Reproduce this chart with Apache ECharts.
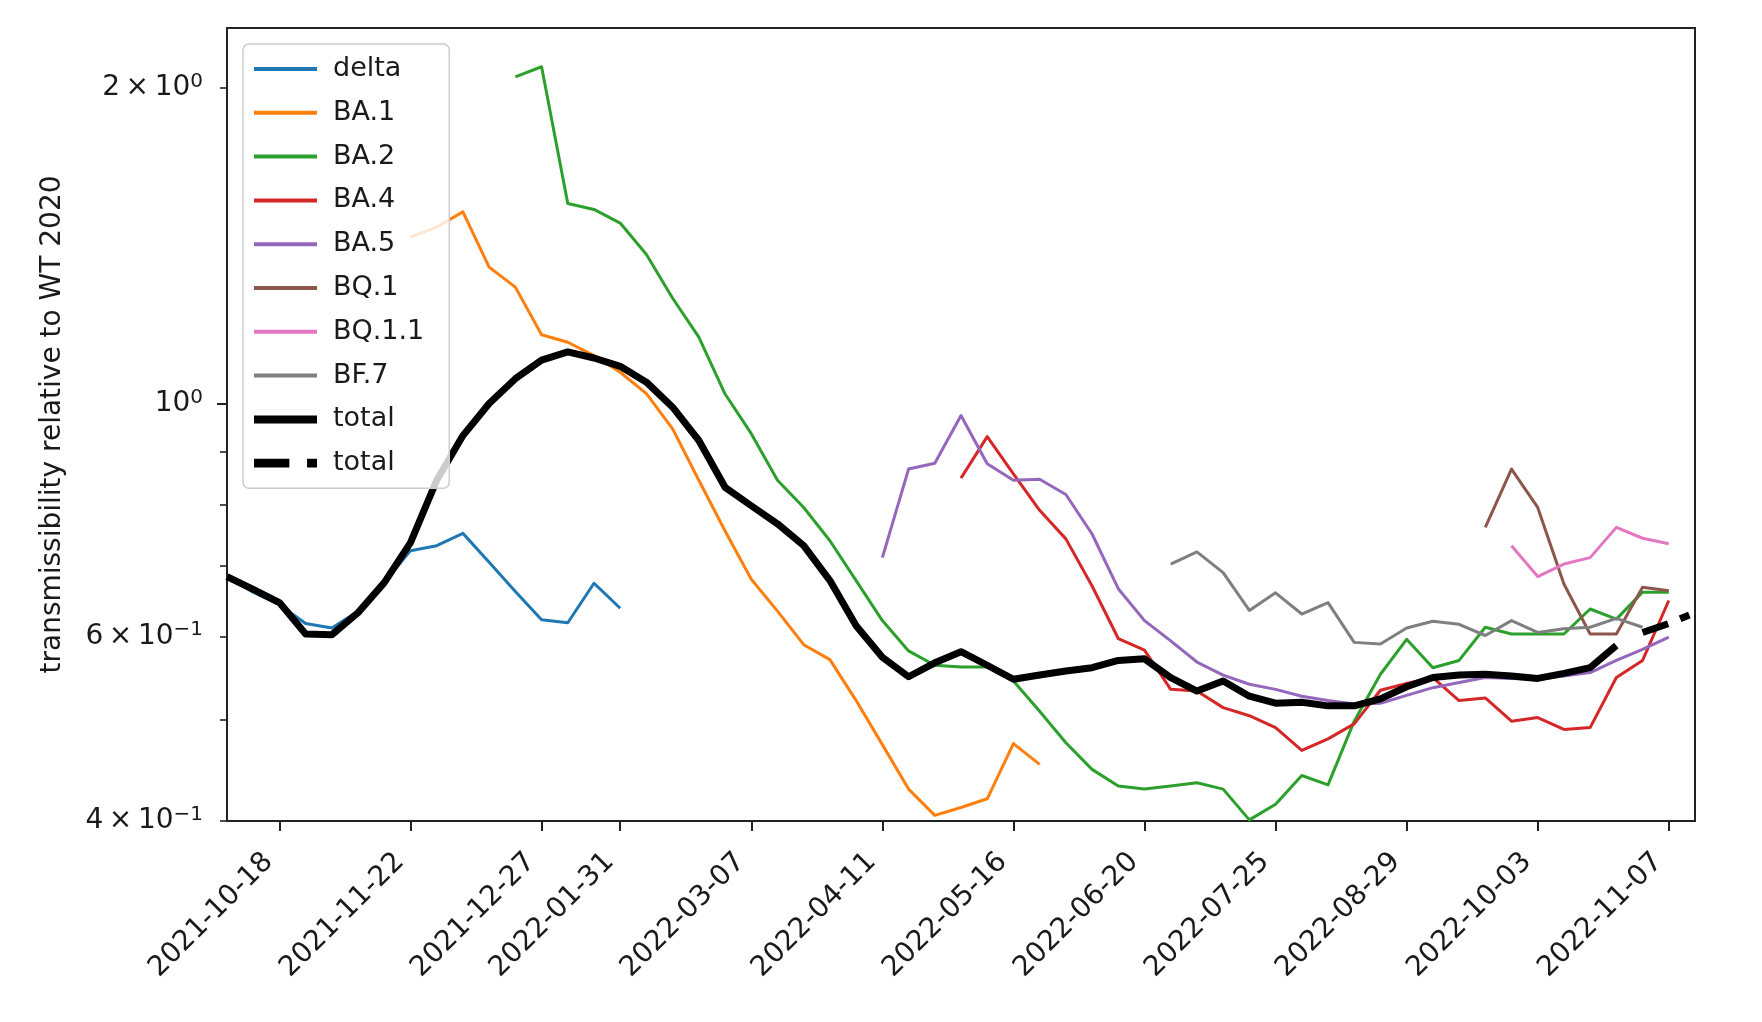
<!DOCTYPE html>
<html>
<head>
<meta charset="utf-8">
<script src="https://cdn.jsdelivr.net/npm/echarts@6/dist/echarts.min.js"></script>
<style>
html, body { margin: 0; padding: 0; background: #ffffff; }
#chart { width: 1762px; height: 1022px; }
</style>
</head>
<body>
<div id="chart"></div>
<script>
// ---- categories (weekly dates on a category axis) ----
const categories = [
  '2021-10-04','2021-10-11','2021-10-18','2021-10-25','2021-11-01','2021-11-08','2021-11-15',
  '2021-11-22','2021-11-29','2021-12-06','2021-12-13','2021-12-20','2021-12-27','2022-01-10',
  '2022-01-17','2022-01-31','2022-02-07','2022-02-14','2022-02-21','2022-02-28','2022-03-07',
  '2022-03-14','2022-03-21','2022-03-28','2022-04-04','2022-04-11','2022-04-18','2022-04-25',
  '2022-05-02','2022-05-09','2022-05-16','2022-05-23','2022-05-30','2022-06-06','2022-06-13',
  '2022-06-20','2022-06-27','2022-07-04','2022-07-11','2022-07-18','2022-07-25','2022-08-01',
  '2022-08-08','2022-08-15','2022-08-22','2022-08-29','2022-09-05','2022-09-12','2022-09-19',
  '2022-09-26','2022-10-03','2022-10-10','2022-10-17','2022-10-24','2022-10-31','2022-11-07',
  '2022-11-14'
];
const xTickLabels = ['2021-10-18','2021-11-22','2021-12-27','2022-01-31','2022-03-07','2022-04-11',
  '2022-05-16','2022-06-20','2022-07-25','2022-08-29','2022-10-03','2022-11-07'];

// ---- y axis ticks (log scale) ----
const yLabelValues = [0.40001, 0.6, 1, 2];
const yLabelMantissa = ['4', '6', '', '2'];
const yLabelExponent = ['\u22121', '\u22121', '0', '0'];
const yMinorTickValues = [0.40001, 0.5, 0.6, 0.7, 0.8, 0.9, 2];
const yMajorTickValues = [1];

// ---- series values ----
const deltaStart = '2021-10-04';
const deltaValues = [0.684, 0.661, 0.643, 0.617, 0.611, 0.634, 0.675, 0.724, 0.732, 0.752,
  0.706, 0.662, 0.622, 0.618, 0.674, 0.638];

const ba1Start = '2021-11-22';
const ba1Values = [1.441, 1.473, 1.523, 1.349, 1.291, 1.163, 1.144, 1.111, 1.071, 1.022,
  0.946, 0.845, 0.756, 0.680, 0.634, 0.589, 0.570, 0.521, 0.473, 0.429,
  0.405, 0.412, 0.420, 0.474, 0.453];

const ba2Start = '2021-12-20';
const ba2Values = [2.048, 2.094, 1.551, 1.531, 1.486, 1.387, 1.260, 1.157, 1.021, 0.936,
  0.845, 0.796, 0.740, 0.678, 0.621, 0.581, 0.563, 0.561, 0.561, 0.544,
  0.509, 0.475, 0.448, 0.432, 0.429, 0.432, 0.435, 0.429, 0.401, 0.415,
  0.442, 0.433, 0.498, 0.552, 0.596, 0.560, 0.569, 0.612, 0.603, 0.603,
  0.603, 0.637, 0.623, 0.661, 0.661];

const ba4Start = '2022-05-02';
const ba4Values = [0.849, 0.930, 0.857, 0.791, 0.743, 0.670, 0.597, 0.582, 0.534, 0.532,
  0.513, 0.504, 0.491, 0.467, 0.479, 0.495, 0.533, 0.541, 0.548, 0.521,
  0.524, 0.498, 0.502, 0.489, 0.491, 0.548, 0.569, 0.649];

const ba5Start = '2022-04-11';
const ba5Values = [0.713, 0.866, 0.877, 0.974, 0.876, 0.845, 0.847, 0.819, 0.751, 0.666,
  0.621, 0.594, 0.567, 0.551, 0.540, 0.534, 0.526, 0.521, 0.517, 0.518,
  0.527, 0.536, 0.542, 0.548, 0.547, 0.546, 0.550, 0.554, 0.569, 0.583, 0.599];

const bq1Start = '2022-09-19';
const bq1Values = [0.762, 0.866, 0.796, 0.673, 0.603, 0.603, 0.668, 0.663];

const bq11Start = '2022-09-26';
const bq11Values = [0.732, 0.684, 0.703, 0.713, 0.762, 0.744, 0.735];

const bf7Start = '2022-06-27';
const bf7Values = [0.703, 0.722, 0.690, 0.635, 0.660, 0.630, 0.646, 0.592, 0.590, 0.611,
  0.620, 0.616, 0.601, 0.621, 0.605, 0.610, 0.612, 0.624, 0.612];

const totalStart = '2021-10-04';
const totalValues = [0.684, 0.665, 0.646, 0.603, 0.602, 0.632, 0.675, 0.737, 0.845, 0.932,
  1.000, 1.056, 1.100, 1.120, 1.105, 1.085, 1.048, 0.992, 0.922, 0.832,
  0.799, 0.768, 0.732, 0.678, 0.614, 0.573, 0.549, 0.566, 0.580, 0.563,
  0.546, 0.551, 0.556, 0.560, 0.569, 0.571, 0.548, 0.532, 0.544, 0.526,
  0.518, 0.519, 0.515, 0.515, 0.523, 0.537, 0.548, 0.551, 0.552, 0.550,
  0.547, 0.553, 0.560, 0.588];

const totalProjStart = '2022-10-31';
const totalProjValues = [0.605, 0.617, 0.632];

// ---- build ----
function toData(start, values) {
  const s = categories.indexOf(start);
  return values.map((v, i) => [categories[s + i], v]);
}

const FONT = 'DejaVu Sans';
const TEXT = '#1a1a1a';

function thinLine(name, color, start, values) {
  return {
    name: name, type: 'line', symbol: 'none', yAxisIndex: 0,
    data: toData(start, values),
    lineStyle: { color: color, width: 3, join: 'round', cap: 'butt' },
    itemStyle: { color: color },
    emphasis: { disabled: true },
    z: 2
  };
}

const xTickShown = (idx) => xTickLabels.indexOf(categories[idx]) >= 0;

const series = [
  thinLine('delta', '#1f77b4', deltaStart, deltaValues),
  thinLine('BA.1', '#ff7f0e', ba1Start, ba1Values),
  thinLine('BA.2', '#2ca02c', ba2Start, ba2Values),
  thinLine('BA.4', '#d62728', ba4Start, ba4Values),
  thinLine('BA.5', '#9467bd', ba5Start, ba5Values),
  thinLine('BQ.1', '#8c564b', bq1Start, bq1Values),
  thinLine('BQ.1.1', '#e377c2', bq11Start, bq11Values),
  thinLine('BF.7', '#7f7f7f', bf7Start, bf7Values),
  {
    name: 'total', type: 'line', symbol: 'none', yAxisIndex: 0,
    data: toData(totalStart, totalValues),
    lineStyle: { color: '#000000', width: 7, join: 'round', cap: 'butt' },
    itemStyle: { color: '#000000' },
    emphasis: { disabled: true },
    z: 3
  },
  {
    name: 'total ', type: 'line', symbol: 'none', yAxisIndex: 0,
    data: toData(totalProjStart, totalProjValues),
    lineStyle: { color: '#000000', width: 7, type: [27, 13, 10, 13], join: 'round', cap: 'butt' },
    itemStyle: { color: '#000000' },
    emphasis: { disabled: true },
    z: 3
  }
];

function yLabelFormatter(val) {
  for (let i = 0; i < yLabelValues.length; i++) {
    if (Math.abs(val - yLabelValues[i]) / yLabelValues[i] < 1e-3) {
      const m = yLabelMantissa[i];
      return (m ? '{m|' + m + '\u2009\u00d7\u200910}' : '{m|10}') + '{s|' + yLabelExponent[i] + '}';
    }
  }
  return '';
}

const legendNames = ['delta','BA.1','BA.2','BA.4','BA.5','BQ.1','BQ.1.1','BF.7','total','total '];

function legendItem(n) {
  if (n === 'total ') {
    // dash-dot sample for the projected total
    return {
      name: n,
      icon: 'path://M0,0H32V8H0Z M48,0H57V8H48Z',
      itemStyle: { color: '#000000', opacity: 1, borderWidth: 0 }
    };
  }
  return {
    name: n,
    itemStyle: { opacity: 0, borderWidth: 0 },
    lineStyle: n === 'total' ? { width: 8 } : { width: 4 }
  };
}

const option = {
  animation: false,
  backgroundColor: '#ffffff',
  textStyle: { fontFamily: FONT },
  grid: {
    left: 227, right: 67, top: 28, bottom: 201,
    show: true, borderColor: '#222222', borderWidth: 2, backgroundColor: 'transparent',
    containLabel: false, outerBoundsMode: 'none'
  },
  legend: {
    orient: 'vertical', left: 243, top: 44,
    padding: [10, 25, 10, 7],
    itemWidth: 63, itemHeight: 14, itemGap: 13.8,
    symbolKeepAspect: true,
    backgroundColor: 'rgba(255,255,255,0.8)',
    borderColor: '#cccccc', borderWidth: 1.5, borderRadius: 6,
    selectedMode: false,
    textStyle: { fontFamily: FONT, fontSize: 27, color: TEXT, lineHeight: 30, padding: [0, 0, 0, 11] },
    data: legendNames.map(legendItem),
    formatter: (name) => name.trim(),
    z: 10
  },
  xAxis: {
    type: 'category', data: categories, boundaryGap: false,
    axisLine: { show: true, lineStyle: { color: '#222222', width: 2 } },
    axisTick: { show: true, interval: (idx) => xTickShown(idx), length: 10, lineStyle: { color: '#222222', width: 2 } },
    axisLabel: {
      interval: (idx) => xTickShown(idx), rotate: 45, margin: 26, padding: [0, 15, 0, 0],
      fontFamily: FONT, fontSize: 28, color: TEXT, hideOverlap: false
    },
    splitLine: { show: false }
  },
  yAxis: [
    {
      type: 'log', logBase: 10, min: 0.4, max: 2.28, position: 'left',
      name: 'transmissibility relative to WT 2020', nameLocation: 'middle', nameGap: 160,
      nameTextStyle: { fontFamily: FONT, fontSize: 28, color: TEXT },
      axisLine: { show: true, lineStyle: { color: '#222222', width: 2 } },
      axisTick: { show: true, customValues: yMinorTickValues, length: 7, lineStyle: { color: '#222222', width: 1.6 } },
      axisLabel: {
        customValues: yLabelValues, margin: 24, formatter: yLabelFormatter,
        rich: {
          m: { fontFamily: FONT, fontSize: 28, color: TEXT, lineHeight: 32 },
          s: { fontFamily: FONT, fontSize: 20, color: TEXT, lineHeight: 20, verticalAlign: 'top' }
        }
      },
      splitLine: { show: false },
      minorTick: { show: false }
    },
    {
      type: 'log', logBase: 10, min: 0.4, max: 2.28, position: 'left',
      axisLine: { show: false },
      axisTick: { show: true, customValues: yMajorTickValues, length: 10, lineStyle: { color: '#222222', width: 2 } },
      axisLabel: { show: false },
      splitLine: { show: false }
    }
  ],
  series: series
};

const chart = echarts.init(document.getElementById('chart'), null, { renderer: 'canvas' });
chart.setOption(option);
</script>
</body>
</html>
